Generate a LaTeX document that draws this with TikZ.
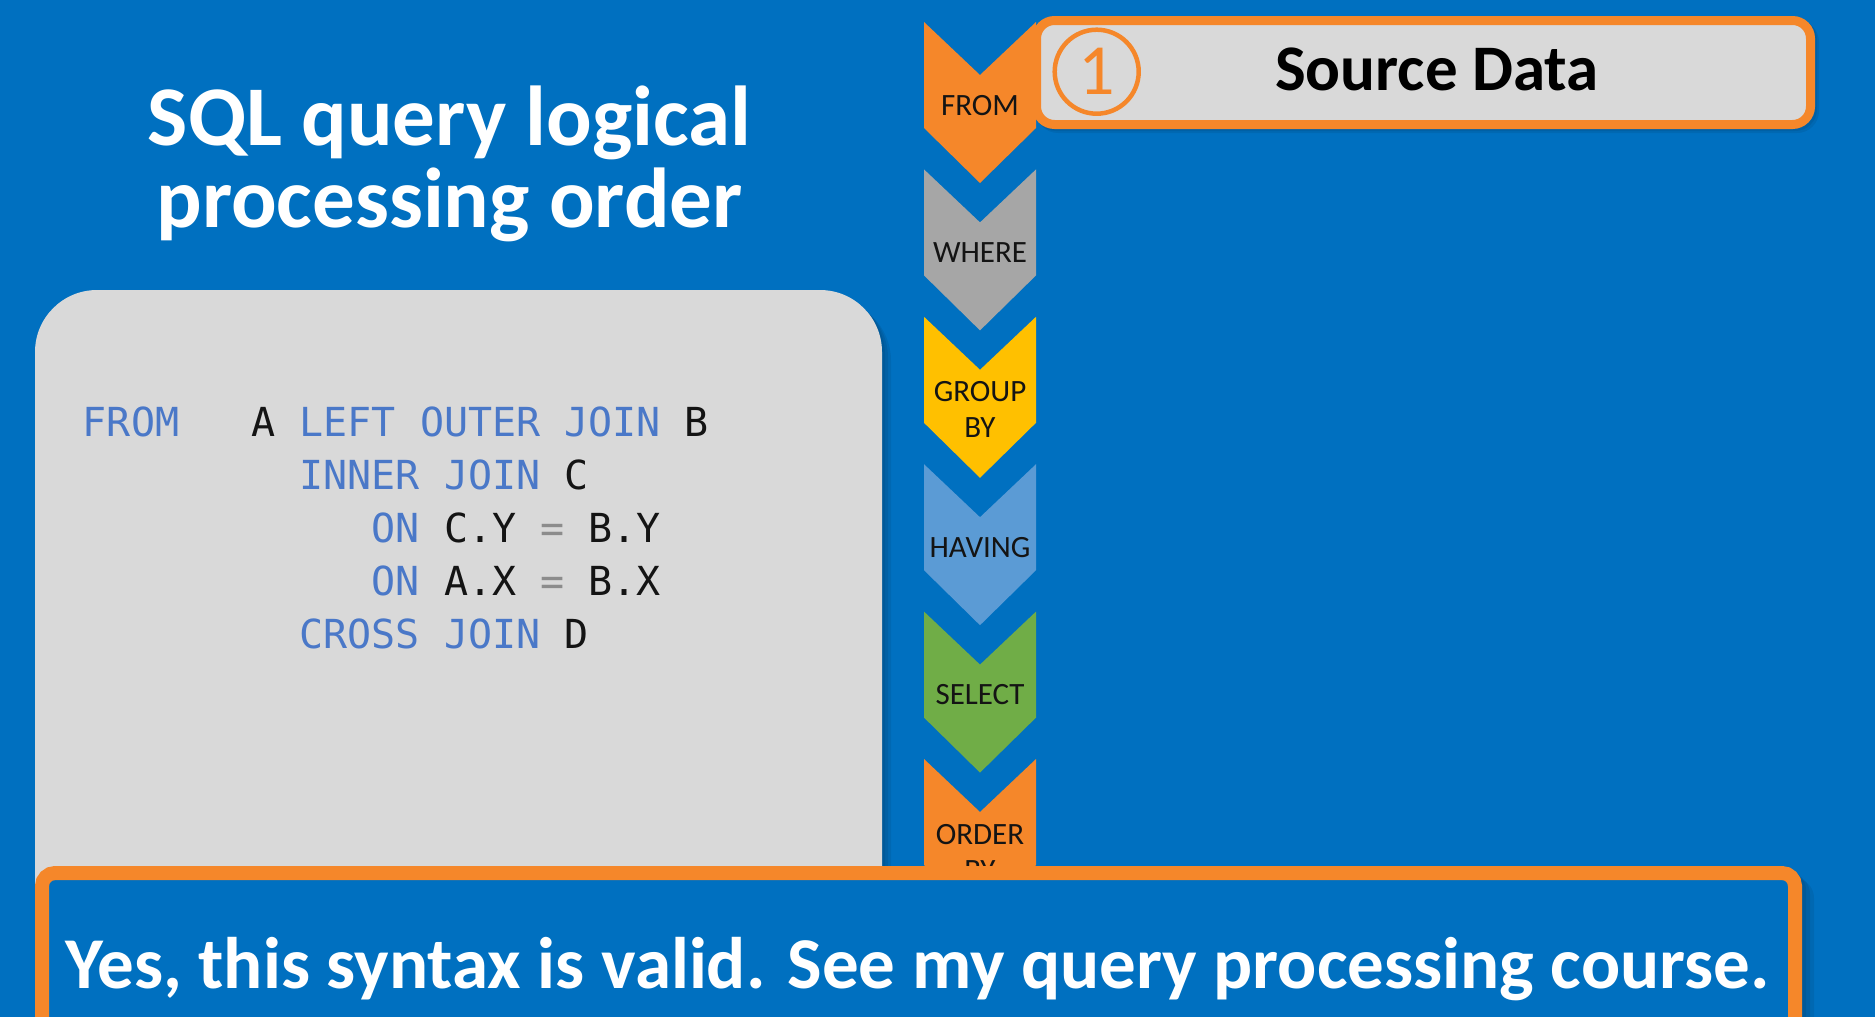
\documentclass[tikz,border=0pt]{standalone}
\usepackage{fontspec}
\setmainfont{Carlito}
\newfontfamily\codefont{DejaVu Sans Mono}
\definecolor{bgblue}{HTML}{0070C0}
\definecolor{accent}{HTML}{F5872A}
\definecolor{panel}{HTML}{D9D9D9}
\definecolor{kwblue}{HTML}{4A78C8}
\definecolor{opgray}{HTML}{8C8C8C}
\definecolor{idblack}{HTML}{141414}
\definecolor{cwhere}{HTML}{A6A6A6}
\definecolor{cgroup}{HTML}{FFC000}
\definecolor{chaving}{HTML}{5B9BD5}
\definecolor{cselect}{HTML}{70AD47}
% column gap measured in the current (monospaced) font
\newcommand{\gap}[1]{\hspace*{#1\fontcharwd\font`M}}
\newcommand{\kw}[1]{{\color{kwblue}#1}}
\newcommand{\op}[1]{{\color{opgray}#1}}
\begin{document}
\begin{tikzpicture}[x=1pt,y=-1pt,
  chevlabel/.style={anchor=base,inner sep=0pt,text=idblack,font=\fontsize{31}{36}\selectfont},
  codeline/.style={anchor=base west,inner sep=0pt,text=idblack,font=\codefont\fontsize{40}{48}\selectfont},
  shadowfill/.style={fill=black,fill opacity=0.07}]
\useasboundingbox (0,0) rectangle (1875,1017);
\fill[bgblue] (0,0) rectangle (1875,1017);

% title
\node[anchor=base,inner sep=0pt,text=white,font=\bfseries\fontsize{85}{100}\selectfont] (t1) at (449.5,145) {SQL query logical};
\node[anchor=base,inner sep=0pt,text=white,font=\bfseries\fontsize{85}{100}\selectfont] (t2) at (449.5,227) {processing order};

% code panel with a soft shadow
\foreach \s in {3,6,9}
  \fill[shadowfill,rounded corners=62] (35+\s,290+\s) rectangle (882+\s,1060);
\fill[panel,rounded corners=62] (35,290) rectangle (882,1060);

\node[codeline] (c1) at (82.7,436) {\kw{FROM}\gap{3}A\gap{1}\kw{LEFT}\gap{1}\kw{OUTER}\gap{1}\kw{JOIN}\gap{1}B};
\node[codeline] (c2) at (82.7,489) {\gap{9}\kw{INNER}\gap{1}\kw{JOIN}\gap{1}C};
\node[codeline] (c3) at (82.7,542) {\gap{12}\kw{ON}\gap{1}C.Y\gap{1}\op{=}\gap{1}B.Y};
\node[codeline] (c4) at (82.7,595) {\gap{12}\kw{ON}\gap{1}A.X\gap{1}\op{=}\gap{1}B.X};
\node[codeline] (c5) at (82.7,648) {\gap{9}\kw{CROSS}\gap{1}\kw{JOIN}\gap{1}D};

% chevron column
\foreach \t/\col in {22/accent,169.4/cwhere,316.8/cgroup,464.2/chaving,611.6/cselect,759/accent}
  \fill[\col] (924,\t) -- (980,\t+53) -- (1036,\t) -- (1036,\t+106) -- (980,\t+161) -- (924,\t+106) -- cycle;
\node[chevlabel] (lfrom) at (980,115) {FROM};
\node[chevlabel] (lwhere) at (980,262.4) {WHERE};
\node[chevlabel] (lgroup1) at (980,401.8) {GROUP};
\node[chevlabel] (lgroup2) at (980,437.8) {BY};
\node[chevlabel] (lhaving) at (980,557.2) {HAVING};
\node[chevlabel] (lselect) at (980,704.6) {SELECT};
\node[chevlabel] (lorder1) at (980,844) {ORDER};
\node[chevlabel] (lorder2) at (980,880) {BY};

% step banner
\foreach \s in {2,4}
  \fill[shadowfill,rounded corners=22] (1032+\s,16+\s) rectangle (1815+\s,129+\s);
\draw[accent,line width=9,fill=panel,rounded corners=18] (1036.5,20.5) rectangle (1810.5,124.5);
\node[circle,draw=accent,line width=4.5,minimum size=84,inner sep=0pt] (stepnum) at (1096.7,71.7) {};
\node[text=accent,inner sep=0pt,font=\fontsize{72}{80}\selectfont] at (stepnum.center) {1};
\node[anchor=base,inner sep=0pt,text=black,font=\bfseries\fontsize{65}{76}\selectfont] (stitle) at (1437,90) {Source Data};

% note box at the bottom
\foreach \s in {4,8,12}
  \fill[shadowfill,rounded corners=20] (35+\s,866+\s) rectangle (1802+\s,1060);
\draw[accent,line width=14,fill=bgblue,rounded corners=13] (42,873) rectangle (1795,1050);
\node[anchor=base,inner sep=0pt,text=white,font=\bfseries\fontsize{73}{86}\selectfont] (note) at (917.5,988) {Yes, this syntax is valid. See my query processing course.};
\end{tikzpicture}
\end{document}
